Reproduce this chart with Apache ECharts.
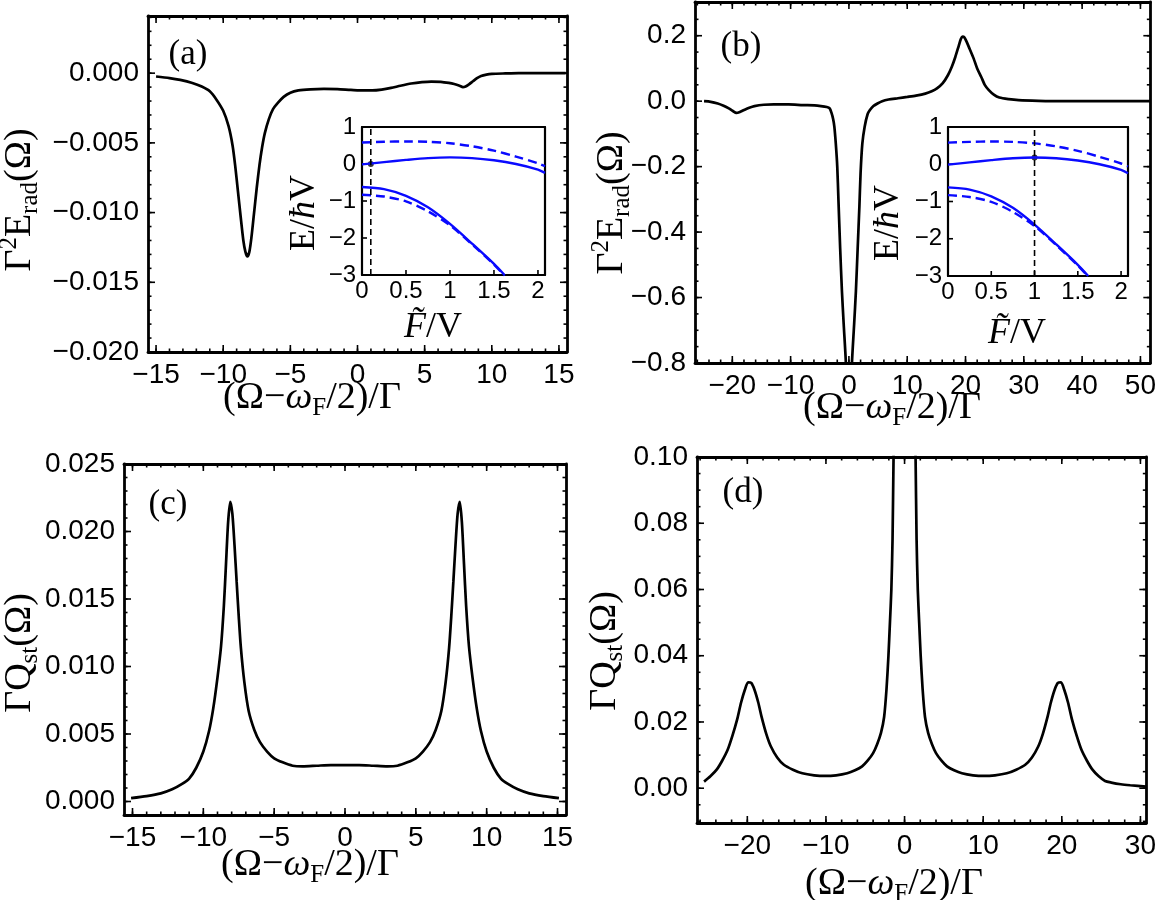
<!DOCTYPE html>
<html>
<head>
<meta charset="utf-8">
<script src="https://cdn.jsdelivr.net/npm/echarts@6.0.0/dist/echarts.min.js"></script>
<style>
html,body{margin:0;padding:0;background:#fff;}
#main{width:1159px;height:900px;}
</style>
</head>
<body>
<div id="main"></div>
<script>
// (a) radiated energy, small drive
var eradAX = [-15.0,-14.0,-13.2,-12.3,-11.6,-11.0,-10.5,-10.0,-9.6,-9.3,-9.1,-8.9,-8.7,-8.5,-8.35,-8.2,-8.05,-7.9,-7.7,-7.5,-7.3,-7.1,-6.9,-6.6,-6.3,-5.9,-5.5,-5.0,-4.4,-3.5,-2.5,-1.5,-0.5,0.5,1.1,1.8,2.5,3.2,4.0,4.8,5.5,6.2,6.8,7.2,7.6,7.85,8.05,8.3,8.6,8.9,9.2,9.6,10.0,11.0,12.0,15.5];
var eradAY = [-0.00024,-0.00035,-0.00048,-0.0007,-0.00096,-0.0013,-0.0019,-0.0027,-0.0038,-0.0052,-0.0067,-0.0085,-0.0103,-0.0120,-0.0128,-0.01315,-0.0128,-0.0118,-0.0100,-0.0082,-0.0066,-0.0053,-0.0043,-0.0033,-0.0026,-0.0021,-0.0017,-0.0014,-0.00124,-0.00116,-0.00113,-0.00115,-0.0012,-0.00124,-0.00124,-0.00118,-0.00106,-0.0009,-0.00074,-0.00064,-0.0006,-0.00062,-0.0007,-0.00078,-0.0009,-0.001,-0.00095,-0.0008,-0.00058,-0.00036,-0.0002,-0.0001,-0.00005,-0.00002,0,0];

// (b) radiated energy, F/V = 1
var eradBX = [-24.85,-23.7,-22.5,-21.5,-20.6,-19.9,-19.3,-18.7,-18.0,-17.1,-16.2,-14.6,-12.9,-10.35,-7.9,-5.9,-4.8,-3.8,-3.3,-3.0,-2.7,-2.5,-2.25,-2.0,-1.8,-1.5,-1.2,-0.9,-0.52,-0.25,0,0.25,0.52,0.9,1.2,1.5,1.8,2.0,2.3,2.7,3.2,3.6,4.2,4.9,5.7,6.8,8.4,10.0,11.5,13.1,14.2,15.1,16.1,17.0,17.65,18.25,18.85,19.2,19.5,19.8,20.1,20.7,21.4,22.0,22.7,23.3,24.0,24.85,25.8,27.4,29.1,32.5,36.7,51.7];
var eradBY = [0,-0.002,-0.007,-0.014,-0.022,-0.03,-0.036,-0.033,-0.027,-0.02,-0.015,-0.011,-0.010,-0.010,-0.012,-0.013,-0.015,-0.018,-0.022,-0.035,-0.055,-0.078,-0.13,-0.2,-0.30,-0.45,-0.58,-0.68,-0.8,-0.95,-1.0,-0.95,-0.8,-0.68,-0.58,-0.45,-0.32,-0.22,-0.13,-0.078,-0.04,-0.027,-0.015,-0.007,0.0,0.005,0.009,0.013,0.017,0.023,0.03,0.039,0.055,0.08,0.105,0.135,0.17,0.19,0.197,0.195,0.185,0.16,0.13,0.1,0.074,0.05,0.034,0.02,0.011,0.006,0.003,0.001,0,0];

// (c) squeezing spectrum, small drive
var qstCX = [-15.1,-14.0,-13.0,-12.2,-11.5,-11.0,-10.5,-10.0,-9.6,-9.3,-9.0,-8.75,-8.55,-8.4,-8.25,-8.1,-7.95,-7.8,-7.65,-7.5,-7.35,-7.1,-6.8,-6.4,-6.0,-5.5,-5.0,-4.4,-3.7,-3.0,-2.0,-1.0,0,1.0,2.0,3.0,3.7,4.4,5.0,5.5,6.0,6.4,6.8,7.1,7.35,7.5,7.65,7.8,7.95,8.1,8.25,8.4,8.55,8.75,9.0,9.3,9.6,10.0,10.5,11.0,11.5,12.2,13.0,14.0,15.1];
var qstCY = [0.00025,0.0004,0.0006,0.0009,0.0013,0.0017,0.0025,0.0037,0.0052,0.0069,0.0092,0.0115,0.0145,0.0176,0.0207,0.0222,0.0213,0.019,0.0163,0.0137,0.0114,0.0088,0.0067,0.0053,0.0044,0.0037,0.0032,0.0029,0.00265,0.0026,0.00265,0.0027,0.0027,0.0027,0.00265,0.0026,0.00265,0.0029,0.0032,0.0037,0.0044,0.0053,0.0067,0.0088,0.0114,0.0137,0.0163,0.019,0.0213,0.0222,0.0207,0.0176,0.0145,0.0115,0.0092,0.0069,0.0052,0.0037,0.0025,0.0017,0.0013,0.0009,0.0006,0.0004,0.00025];

// (d) squeezing spectrum, F/V = 1
var qstDX = [-25.5,-24.7,-23.9,-23.2,-22.5,-21.9,-21.3,-20.8,-20.3,-19.9,-19.5,-19.1,-18.6,-18.2,-17.6,-17.0,-16.2,-15.35,-14.2,-13.0,-11.5,-10.1,-8.7,-7.3,-6.3,-5.4,-4.7,-4.0,-3.5,-3.0,-2.6,-2.3,-2.05,-1.86,-1.68,-1.53,-1.4,-1.2,-0.8,0,0.8,1.2,1.4,1.53,1.68,1.86,2.05,2.3,2.6,3.0,3.5,4.0,4.7,5.4,6.3,7.3,8.7,10.1,11.5,13.0,14.2,15.35,16.2,17.0,17.6,18.2,18.6,19.1,19.5,19.9,20.3,20.8,21.3,21.9,22.5,23.2,23.9,24.7,25.5,26.3,27.5,28.7,30.75];
var qstDY = [0.002,0.0036,0.0056,0.0083,0.0116,0.0158,0.0207,0.0258,0.0298,0.032,0.0318,0.0298,0.0258,0.0217,0.0165,0.0126,0.0093,0.0071,0.0056,0.0045,0.0039,0.0037,0.0039,0.0045,0.0054,0.0066,0.0083,0.0106,0.0132,0.0167,0.0215,0.0298,0.04,0.05,0.06,0.075,0.1,0.13,0.2,0.3,0.2,0.13,0.1,0.075,0.06,0.05,0.04,0.0298,0.0215,0.0167,0.0132,0.0106,0.0083,0.0066,0.0054,0.0045,0.0039,0.0037,0.0039,0.0045,0.0056,0.0071,0.0093,0.0126,0.0165,0.0217,0.0258,0.0298,0.0318,0.032,0.0298,0.0258,0.0207,0.0158,0.0116,0.0083,0.0056,0.0036,0.0022,0.0017,0.0012,0.0009,0.0005];

// insets: quasienergies vs F/V
var insetF = [0,0.25,0.5,0.75,1.0,1.25,1.5,1.75,2.0,2.08];
var upperDashE = [0.58,0.6,0.61,0.6,0.56,0.48,0.36,0.2,0.02,-0.06];
var upperSolidE = [-0.01,0.05,0.11,0.16,0.18,0.16,0.1,0.0,-0.15,-0.24];
var lowerF = [0,0.25,0.5,0.75,1.0,1.25,1.5,1.62];
var lowerSolidE = [-0.62,-0.68,-0.86,-1.17,-1.62,-2.15,-2.7,-3.0];
var lowerDashE = [-0.83,-0.88,-1.01,-1.28,-1.66,-2.17,-2.72,-3.02];
var markA = [0.1, 0.0];   // working point in (a)
var markB = [1.0, 0.18];  // working point in (b)

// ticks
var xTicks15 = [-15,-10,-5,0,5,10,15];
var yTicksA = [-0.020,-0.015,-0.010,-0.005,0.000];
var xTicksB = [-20,-10,0,10,20,30,40,50];
var yTicksB = [-0.8,-0.6,-0.4,-0.2,0.0,0.2];
var yTicksC = [0.000,0.005,0.010,0.015,0.020,0.025];
var xTicksD = [-20,-10,0,10,20,30];
var yTicksD = [0.00,0.02,0.04,0.06,0.08,0.10];
var insetXTicks = [0,0.5,1,1.5,2];
var insetYTicks = [-3,-2,-1,0,1];

function steps(lo, hi, st) {
    var out = [];
    var n = Math.round((hi - lo) / st);
    for (var i = 0; i <= n; i++) out.push(+(lo + i * st).toFixed(6));
    return out;
}
function zip(xs, ys) {
    var d = [];
    for (var i = 0; i < xs.length; i++) d.push([xs[i], ys[i]]);
    return d;
}
function fmt(dec) {
    return function (v) {
        var s = dec == null ? String(+(+v).toFixed(6)) : (+v).toFixed(dec);
        return s.replace('-', '\u2212');
    };
}

var SANS = 'Liberation Sans, Arial, sans-serif';
var SERIF = 'Liberation Serif, DejaVu Serif, serif';
var xAxes = [], yAxes = [], series = [];

// frame side: axis line plus (optionally) tick labels; tick marks are drawn by a custom series
function axisDef(g, r, pos, labels, f, fs, mg, lw) {
    var a = {
        type: 'value', gridIndex: g, min: r[0], max: r[1], position: pos,
        splitLine: {show: false},
        axisLine: {show: true, onZero: false, lineStyle: {color: '#000', width: lw || 2.8}},
        axisTick: {show: false},
        axisLabel: {show: false}
    };
    if (labels) {
        a.axisLabel = {show: true, customValues: labels, formatter: f, color: '#000',
            fontFamily: SANS, fontSize: fs || 28, margin: mg || 9};
    }
    return a;
}

// inward tick marks placed through the axes' own coordinate mapping
function tickSeries(ax, xr, yr, xt, yt, mirror) {
    var data = [];
    xt.forEach(function (t) { data.push([t[0], t[1], 0]); });
    yt.forEach(function (t) { data.push([t[0], t[1], 1]); });
    series.push({
        type: 'custom', xAxisIndex: ax[0], yAxisIndex: ax[1], silent: true, clip: false, z: 3,
        dimensions: ['v', 'len', 'kind'], encode: {x: 0, y: 1},
        data: data,
        renderItem: function (params, api) {
            var v = api.value(0), len = api.value(1), kind = api.value(2);
            var segs = [];
            if (kind === 0) {
                var b = api.coord([v, yr[0]]);
                segs.push([b[0], b[1], b[0], b[1] - len]);
                if (mirror) {
                    var t = api.coord([v, yr[1]]);
                    segs.push([t[0], t[1], t[0], t[1] + len]);
                }
            } else {
                var l = api.coord([xr[0], v]);
                segs.push([l[0], l[1], l[0] + len, l[1]]);
                if (mirror) {
                    var r = api.coord([xr[1], v]);
                    segs.push([r[0], r[1], r[0] - len, r[1]]);
                }
            }
            return {
                type: 'group',
                children: segs.map(function (s) {
                    return {type: 'line', shape: {x1: s[0], y1: s[1], x2: s[2], y2: s[3]},
                        style: {stroke: '#000', lineWidth: 1.6}};
                })
            };
        }
    });
}

function withLen(vals, len) {
    return vals.map(function (v) { return [v, len]; });
}

function panel(g, xr, yr, xMaj, xMinStep, yMaj, yMinStep, xf, yf) {
    var xMin = steps(Math.ceil(xr[0] / xMinStep) * xMinStep, Math.floor(xr[1] / xMinStep) * xMinStep, xMinStep);
    var yMin = steps(Math.ceil(yr[0] / yMinStep - 1e-9) * yMinStep, Math.floor(yr[1] / yMinStep + 1e-9) * yMinStep, yMinStep);
    var ax = [xAxes.length, yAxes.length];
    xAxes.push(axisDef(g, xr, 'bottom', xMaj, xf));
    xAxes.push(axisDef(g, xr, 'top'));
    yAxes.push(axisDef(g, yr, 'left', yMaj, yf));
    yAxes.push(axisDef(g, yr, 'right'));
    tickSeries(ax, xr, yr, withLen(xMaj, 7).concat(withLen(xMin, 3.5)),
        withLen(yMaj, 7).concat(withLen(yMin, 3.5)), true);
    return ax;
}

function inset(g) {
    var xr = [0, 2.08], yr = [-3, 1];
    var ax = [xAxes.length, yAxes.length];
    xAxes.push(axisDef(g, xr, 'bottom', insetXTicks, fmt(null), 24, 4, 2.2));
    xAxes.push(axisDef(g, xr, 'top', null, null, 24, 4, 2.2));
    yAxes.push(axisDef(g, yr, 'left', insetYTicks, fmt(null), 24, 6, 2.2));
    yAxes.push(axisDef(g, yr, 'right', null, null, 24, 6, 2.2));
    tickSeries(ax, xr, yr, withLen(insetXTicks, 5), withLen(insetYTicks, 5), false);
    return ax;
}

var pa = panel(0, [-15.6, 15.6], [-0.020, 0.0041], xTicks15, 1, yTicksA, 0.001, fmt(0), fmt(3));
var pb = panel(1, [-26.4, 51.7], [-0.8, 0.303], xTicksB, 2, yTicksB, 0.05, fmt(0), fmt(1));
var pc = panel(2, [-15.6, 15.6], [-0.001, 0.025], xTicks15, 1, yTicksC, 0.001, fmt(0), fmt(3));
var pd = panel(3, [-26.4, 30.75], [-0.0105, 0.10], xTicksD, 2, yTicksD, 0.005, fmt(0), fmt(2));
var ia = inset(4);
var ib = inset(5);

function mainLine(ax, xs, ys) {
    series.push({type: 'line', xAxisIndex: ax[0], yAxisIndex: ax[1], data: zip(xs, ys),
        showSymbol: false, smooth: 0.25, clip: true,
        lineStyle: {color: '#000', width: 2.7}});
}
mainLine(pa, eradAX, eradAY);
mainLine(pb, eradBX, eradBY);
mainLine(pc, qstCX, qstCY);
mainLine(pd, qstDX, qstDY);

function insetLines(ax, mark) {
    var blue = '#0a0aff';
    var defs = [
        [insetF, upperDashE, [9, 5]],
        [insetF, upperSolidE, 'solid'],
        [lowerF, lowerSolidE, 'solid'],
        [lowerF, lowerDashE, [9, 5]]
    ];
    defs.forEach(function (d) {
        series.push({type: 'line', xAxisIndex: ax[0], yAxisIndex: ax[1], data: zip(d[0], d[1]),
            showSymbol: false, smooth: 0.3, clip: true,
            lineStyle: {color: blue, width: 2.4, type: d[2]}});
    });
    series.push({type: 'line', xAxisIndex: ax[0], yAxisIndex: ax[1],
        data: [[mark[0], -3], [mark[0], 1]], showSymbol: false,
        lineStyle: {color: '#000', width: 1.6, type: [6, 4]}});
    series.push({type: 'scatter', xAxisIndex: ax[0], yAxisIndex: ax[1],
        data: [mark], symbolSize: 6, itemStyle: {color: '#000'}});
}
insetLines(ia, markA);
insetLines(ib, markB);

function richFor(sz) {
    var sm = Math.round(sz * 0.66);
    return {
        n: {fontFamily: SERIF, fontSize: sz, lineHeight: sz + 8, fill: '#000'},
        i: {fontFamily: SERIF, fontStyle: 'italic', fontSize: sz, lineHeight: sz + 8, fill: '#000'},
        s: {fontFamily: SERIF, fontSize: sm, lineHeight: sm - 2, verticalAlign: 'bottom', fill: '#000'},
        p: {fontFamily: SERIF, fontSize: sm, lineHeight: sm - 2, verticalAlign: 'top', fill: '#000'}
    };
}
function label(x, y, text, rot, sz) {
    return {type: 'text', x: x, y: y, rotation: rot || 0,
        style: {text: text, rich: richFor(sz || 38), align: 'center', verticalAlign: 'middle', fill: '#000'}};
}
var xTitle = '{n|(\u03A9\u2212}{i|\u03C9}{s|F}{n|/2)/\u0393}';
var yTitleE = '{n|\u0393}{p|2}{n|E}{s|rad}{n|(\u03A9)}';
var yTitleQ = '{n|\u0393Q}{s|st}{n|(\u03A9)}';
var insetYTitle = '{n|E/}{i|\u0127}{n|V}';
var insetXTitle = '{i|F\u0303}{n|/V}';
var R = Math.PI / 2;

var graphics = [
    label(312, 398, xTitle), label(20, 200, yTitleE, R),
    label(892, 408, xTitle), label(612, 203, yTitleE, R),
    label(310, 865, xTitle), label(20, 653, yTitleQ, R),
    label(894, 884, xTitle), label(605, 651, yTitleQ, R),
    label(188, 55, '{n|(a)}', 0, 35), label(741, 47, '{n|(b)}', 0, 35),
    label(168, 505, '{n|(c)}', 0, 35), label(743, 493, '{n|(d)}', 0, 35),
    label(305, 213, insetYTitle, R, 36), label(433, 328, insetXTitle, 0, 36),
    label(889, 223, insetYTitle, R, 36), label(1017, 334, insetXTitle, 0, 36)
];

var chart = echarts.init(document.getElementById('main'));
chart.setOption({
    animation: false,
    backgroundColor: '#fff',
    grid: [
        {left: 148, top: 16, width: 419, height: 336},
        {left: 695, top: 2, width: 456, height: 361},
        {left: 124, top: 464, width: 442, height: 351},
        {left: 697, top: 457, width: 450, height: 366},
        {left: 362, top: 127, width: 183, height: 148},
        {left: 948, top: 127, width: 180, height: 149}
    ],
    xAxis: xAxes,
    yAxis: yAxes,
    series: series,
    graphic: graphics
});
</script>
</body>
</html>
